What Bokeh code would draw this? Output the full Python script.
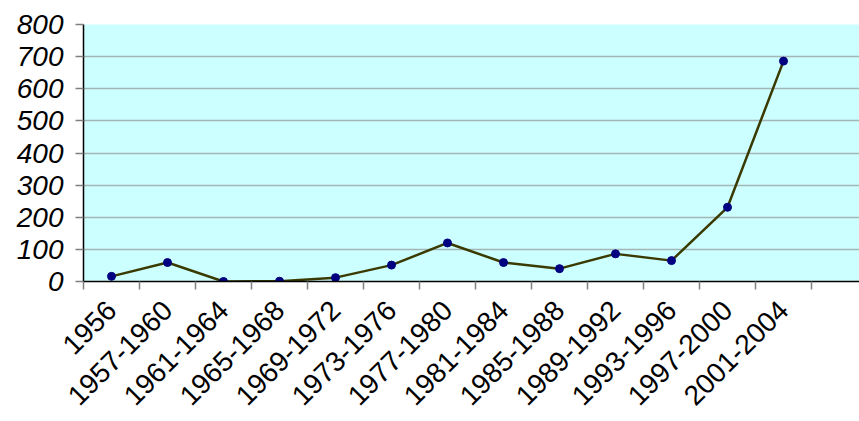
from bokeh.plotting import figure
from bokeh.models import Range1d, FixedTicker
from bokeh.embed import file_html
from bokeh.resources import INLINE

periods = ["1956", "1957-1960", "1961-1964", "1965-1968", "1969-1972",
           "1973-1976", "1977-1980", "1981-1984", "1985-1988", "1989-1992",
           "1993-1996", "1997-2000", "2001-2004"]
counts = [16, 59, 0, 1, 12, 51, 120, 59, 40, 86, 65, 231, 686]
y_ticks = [0, 100, 200, 300, 400, 500, 600, 700, 800]

xs = [i + 0.5 for i in range(len(periods))]

p = figure(width=859, height=421, output_backend="svg", toolbar_location=None,
           x_range=Range1d(0, 776 / 56), y_range=Range1d(0, 800),
           min_border_left=83, min_border_right=0, min_border_top=24,
           min_border_bottom=140)
p.background_fill_color = "#ccffff"
p.border_fill_color = "white"
p.outline_line_color = None

p.line(xs, counts, line_color="#3a3a00", line_width=2.5)
p.scatter(xs, counts, size=8, fill_color="#000080", line_color="#000080")

# x axis
p.xaxis.ticker = FixedTicker(ticks=xs, minor_ticks=list(range(0, len(periods) + 1)))
p.xaxis.major_label_overrides = {x: lab for x, lab in zip(xs, periods)}
p.xaxis.major_tick_out = 0
p.xaxis.major_tick_in = 0
p.xaxis.minor_tick_out = 8
p.xaxis.minor_tick_in = 0
p.xaxis.minor_tick_line_color = "#808080"
p.xaxis.minor_tick_line_width = 1.5
p.xaxis.axis_line_color = "black"
p.xaxis.axis_line_width = 1.5
p.xaxis.major_label_orientation = 0.785398
p.xaxis.major_label_text_font = "Liberation Sans"
p.xaxis.major_label_text_font_size = "28px"
p.xaxis.major_label_text_color = "black"
p.xaxis.major_label_standoff = 16

# y axis
p.yaxis.ticker = FixedTicker(ticks=y_ticks)
p.yaxis.major_tick_out = 8
p.yaxis.major_tick_in = 0
p.yaxis.minor_tick_out = 0
p.yaxis.minor_tick_in = 0
p.yaxis.major_tick_line_color = "#808080"
p.yaxis.major_tick_line_width = 1.5
p.yaxis.axis_line_color = "black"
p.yaxis.axis_line_width = 1.5
p.yaxis.major_label_text_font = "Liberation Sans"
p.yaxis.major_label_text_font_style = "italic"
p.yaxis.major_label_text_font_size = "28px"
p.yaxis.major_label_text_color = "black"
p.yaxis.major_label_standoff = 12

p.xgrid.grid_line_color = None
p.ygrid.grid_line_color = "#a3b5b5"
p.ygrid.grid_line_width = 1.5

open("out.html", "w").write(file_html(p, INLINE))
